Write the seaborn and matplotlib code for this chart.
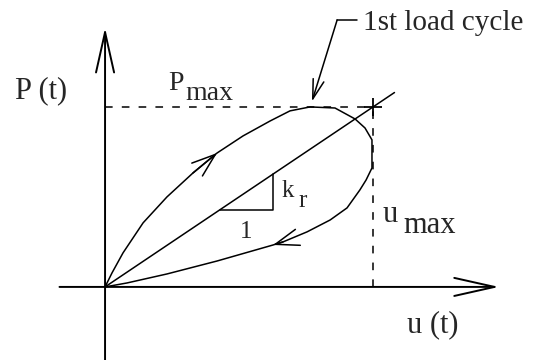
import numpy as np
import matplotlib
matplotlib.use("Agg")
import matplotlib.pyplot as plt
import seaborn as sns

# hysteresis loop of the 1st load cycle (u/umax, P/Pmax)
u_loop = [0.0, 0.026, 0.067, 0.142, 0.231, 0.328, 0.418, 0.515, 0.616, 0.690, 0.765,
          0.858, 0.933, 0.970, 0.996, 0.996, 0.974, 0.951, 0.903, 0.840, 0.754, 0.664,
          0.627, 0.418, 0.231, 0.082, 0.0]
p_loop = [0.0, 0.078, 0.189, 0.356, 0.500, 0.633, 0.744, 0.839, 0.922, 0.978, 1.0,
          0.994, 0.933, 0.883, 0.817, 0.661, 0.594, 0.539, 0.439, 0.372, 0.306, 0.250,
          0.233, 0.144, 0.072, 0.022, 0.0]
u_max = 1.0
p_max = 1.0
secant_end = 1.08          # secant stiffness line k_r drawn a bit past (umax, Pmax)
tri_u = [0.429, 0.627]     # slope triangle base

sns.set_style("white")
plt.rcParams["font.family"] = ["Liberation Serif", "DejaVu Serif"]

fig = plt.figure(figsize=(5.4, 3.6), dpi=100)
ax = fig.add_axes([0, 0, 1, 1])
ax.set_xlim(-0.392, 1.623)
ax.set_ylim(-0.406, 1.594)
ax.axis("off")

k = "black"
fs = 22

# axes with open arrow heads
ax_arrow = dict(arrowstyle="->,head_length=2.9,head_width=0.65", color=k, lw=1.4,
                shrinkA=0, shrinkB=0, mutation_scale=10)
ax.annotate("", xy=(0, 1.44), xytext=(0, -0.41), arrowprops=ax_arrow)
ax.annotate("", xy=(1.47, 0), xytext=(-0.17, 0), arrowprops=ax_arrow)

# dashed guides to Pmax / umax
ax.plot([0, u_max], [p_max, p_max], color=k, lw=1.1, ls=(0, (5, 6)))
ax.plot([u_max, u_max], [0, p_max], color=k, lw=1.1, ls=(0, (5, 6)))
ax.plot([u_max], [p_max], marker="+", ms=13, mew=1.3, color=k)

# loop
sns.lineplot(x=u_loop, y=p_loop, sort=False, estimator=None, color=k, lw=1.1, ax=ax)

# secant line and slope triangle
sns.lineplot(x=[0, secant_end], y=[0, secant_end * p_max / u_max], sort=False,
             estimator=None, color=k, lw=1.1, ax=ax)
slope = p_max / u_max
ax.plot([tri_u[0], tri_u[1], tri_u[1]],
        [tri_u[0] * slope, tri_u[0] * slope, tri_u[1] * slope], color=k, lw=1.1)

# direction arrows on the loop
head = dict(arrowstyle="->,head_length=1.7,head_width=0.6", color=k, lw=1.1,
            shrinkA=0, shrinkB=0, mutation_scale=10)
ax.annotate("", xy=(u_loop[6], p_loop[6]), xytext=(u_loop[5], p_loop[5]), arrowprops=head)
ax.annotate("", xy=(u_loop[22], p_loop[22]), xytext=(u_loop[21], p_loop[21]), arrowprops=head)

# leader for "1st load cycle"
ax.plot([0.866, 0.94], [1.483, 1.483], color=k, lw=1.1)
ax.annotate("", xy=(0.772, 1.03), xytext=(0.866, 1.483),
            arrowprops=dict(arrowstyle="->,head_length=1.4,head_width=0.4", color=k,
                            lw=1.1, shrinkA=0, shrinkB=0, mutation_scale=10))

# labels
ax.text(-0.336, 1.05, "P (t)", fontsize=fs, va="baseline", ha="left")
ax.text(0.235, 1.094, "P", fontsize=fs - 2, va="baseline", ha="left")
ax.text(0.299, 1.039, "max", fontsize=fs - 2, va="baseline", ha="left")
ax.text(0.963, 1.428, "1st load cycle", fontsize=fs - 1, va="baseline", ha="left")
ax.text(0.66, 0.5, "k", fontsize=fs - 4, va="baseline", ha="left")
ax.text(0.72, 0.444, "r", fontsize=fs - 4, va="baseline", ha="left")
ax.text(0.504, 0.272, "1", fontsize=fs - 4, va="baseline", ha="left")
ax.text(1.034, 0.361, "u", fontsize=fs, va="baseline", ha="left")
ax.text(1.112, 0.3, "max", fontsize=fs, va="baseline", ha="left")
ax.text(1.127, -0.25, "u (t)", fontsize=fs, va="baseline", ha="left")

fig.savefig("out.png", dpi=100, facecolor="white")
